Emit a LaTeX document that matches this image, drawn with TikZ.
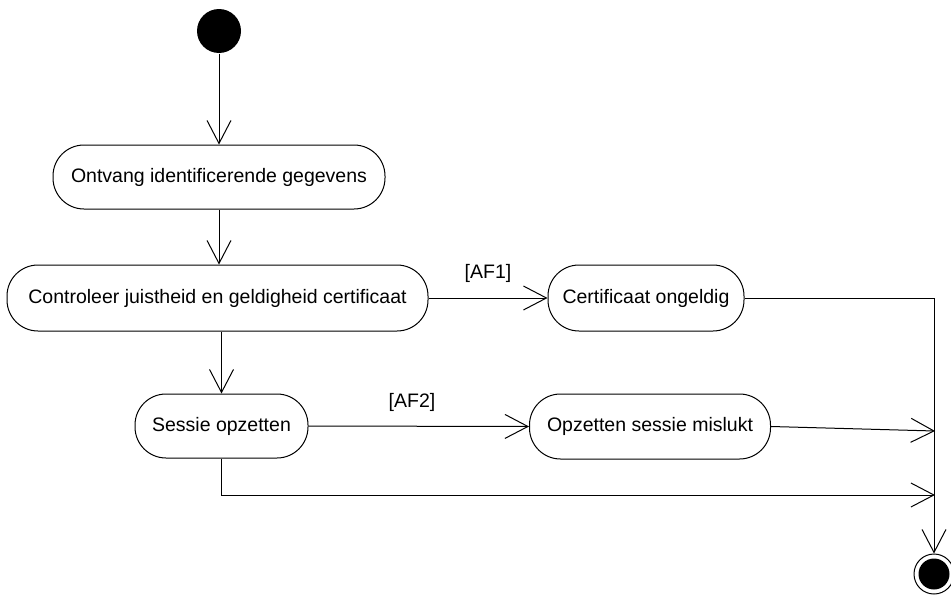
\documentclass[tikz,border=0pt]{standalone}
\usepackage{fontspec}
\setmainfont{Liberation Sans}
\usetikzlibrary{arrows.meta}
\begin{document}
\begin{tikzpicture}[x=1pt,y=-1pt,
  font=\fontsize{19.5}{23}\selectfont,
  line width=1pt,
  act/.style={draw, rounded corners=31pt, inner sep=0pt, align=center},
  flow/.style={-{Straight Barb[length=23pt,width=24pt,line width=1pt]}},
  guard/.style={inner sep=0pt}
]
\useasboundingbox (0,0) rectangle (951,597);

% start and end points
\node[circle, fill=black, minimum size=44pt, inner sep=0pt] (init) at (219,31) {};
\node[circle, draw, minimum size=40pt, inner sep=0pt] (final) at (934,574) {};
\fill (final.center) circle (15.5pt);

% activities
\node[act, minimum width=332pt, minimum height=64pt] (recv) at (219,177) {Ontvang identificerende gegevens};
\node[act, minimum width=421pt, minimum height=66pt] (check) at (217.5,298) {Controleer juistheid en geldigheid certificaat};
\node[act, minimum width=196pt, minimum height=66pt] (invalid) at (646,298) {Certificaat ongeldig};
\node[act, minimum width=173pt, minimum height=64pt] (session) at (221.5,426) {Sessie opzetten};
\node[act, minimum width=241pt, minimum height=65pt] (failed) at (650,426.5) {Opzetten sessie mislukt};

% guards
\node[guard] (af1) at (488,273) {[AF1]};
\node[guard] (af2) at (412,402) {[AF2]};

% merge points on the right-hand rail
\coordinate (railA) at (935,431);
\coordinate (railB) at (935,495);

% transitions
\draw[flow] (init) -- (recv.north);
\draw[flow] (recv.south) -- (check.north -| recv.south);
\draw[flow] (check.east) -- (invalid.west);
\draw[flow] (session.north |- check.south) -- (session.north);
\draw[flow] (session.east) -- (failed.west);
\draw[flow] (invalid.east) -| (final.north);
\draw[flow] (failed.east) -- (railA);
\draw[flow] (session.south) |- (railB);
\end{tikzpicture}
\end{document}
